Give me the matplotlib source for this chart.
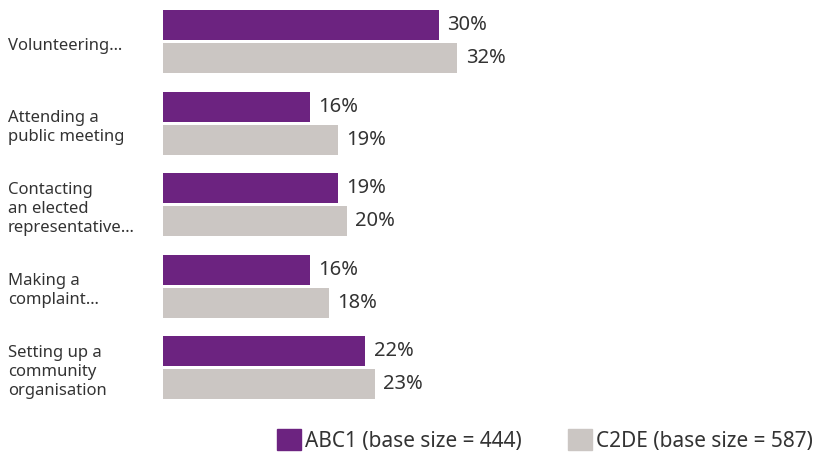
import matplotlib.pyplot as plt
import numpy as np
from matplotlib.patches import Patch

plt.rcParams['font.family'] = ['Noto Sans', 'DejaVu Sans']

categories = ['Volunteering…', 'Attending a\npublic meeting', 'Contacting\nan elected\nrepresentative…',
              'Making a\ncomplaint…', 'Setting up a\ncommunity\norganisation']
abc1 = [30, 16, 19, 16, 22]
c2de = [32, 19, 20, 18, 23]
series_names = ['ABC1 (base size = 444)', 'C2DE (base size = 587)']

purple = '#6c2380'
grey = '#cbc6c3'
text_col = '#333333'

fig = plt.figure(figsize=(8.15, 4.54), dpi=100)
ax = fig.add_axes([163 / 815, 0, 652 / 815, 1])

y = np.arange(len(categories))
h = 0.368
off = 0.202
b1 = ax.barh(y - off, abc1, height=h, color=purple)
b2 = ax.barh(y + off, c2de, height=h, color=grey)

ax.bar_label(b1, labels=[f'{v}%' for v in abc1], padding=6, fontsize=14.5, color=text_col)
ax.bar_label(b2, labels=[f'{v}%' for v in c2de], padding=6, fontsize=14.5, color=text_col)

ax.set_xlim(0, 652 / 9.2)
ax.set_ylim(5.055, -0.509)
ax.axis('off')

# category labels on the left edge of the figure
for yi, lab in zip(y, categories):
    ax.text(-163 / 9.2 + 8 / 9.2, yi + 0.05, lab, ha='left', va='center', fontsize=12,
            color=text_col, linespacing=1.25, clip_on=False)

handles = [Patch(color=purple), Patch(color=grey)]
fig.legend(handles, series_names, ncol=2, loc='lower right', bbox_to_anchor=(1.021, -0.036),
           frameon=False, fontsize=15, handlelength=1.15, handleheight=1.15,
           handletextpad=0.2, columnspacing=2.23, labelcolor=text_col)

fig.savefig('out.png', dpi=100)
